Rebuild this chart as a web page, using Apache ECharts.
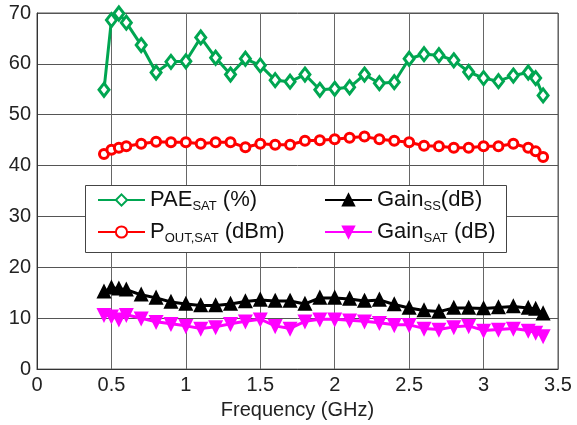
<!DOCTYPE html>
<html>
<head>
<meta charset="utf-8">
<script src="https://cdn.jsdelivr.net/npm/echarts@6/dist/echarts.min.js"></script>
<style>
html,body{margin:0;padding:0;background:#fff;}
#chart{width:577px;height:425px;}
</style>
</head>
<body>
<div id="chart"></div>
<script>
const freq = [0.45,0.5,0.55,0.6,0.7,0.8,0.9,1.0,1.1,1.2,1.3,1.4,1.5,1.6,1.7,1.8,1.9,2.0,2.1,2.2,2.3,2.4,2.5,2.6,2.7,2.8,2.9,3.0,3.1,3.2,3.3,3.35,3.4];
const pae = [54.9,68.6,69.9,68.1,63.7,58.3,60.4,60.5,65.2,61.2,57.9,61.0,59.7,56.8,56.5,57.9,54.9,55.1,55.4,57.9,56.2,56.4,61.0,61.9,61.7,60.7,58.4,57.2,56.6,57.7,58.3,57.2,53.8];
const pout = [42.3,43.1,43.5,43.8,44.3,44.7,44.6,44.6,44.3,44.6,44.6,43.6,44.3,44.1,44.1,44.9,45.0,45.2,45.5,45.7,45.2,44.9,44.6,43.9,43.8,43.5,43.5,43.8,43.8,44.3,43.5,42.8,41.7];
const gainSS = [15.2,16.0,15.8,15.6,14.6,14.0,13.2,12.8,12.5,12.5,12.8,13.3,13.6,13.4,13.4,12.8,14.0,14.0,13.8,13.4,13.6,12.7,12.0,11.5,11.3,12.0,12.0,11.9,12.1,12.3,12.0,11.8,10.9];
const gainSat = [10.7,10.4,9.8,10.7,10.0,9.3,8.9,8.5,8.0,8.3,8.9,9.4,9.8,8.5,8.0,9.4,9.8,9.8,9.6,9.4,9.1,8.7,8.7,8.0,7.8,8.3,8.5,7.6,7.8,8.0,7.6,7.2,6.5];
const xTicks = {min: 0, max: 3.5, interval: 0.5};
const yTicks = {min: 0, max: 70, interval: 10};
const legendLabels = {
  'PAE': '{m|PAE}{s|SAT}{m| (%)}',
  'POUT': '{m|P}{s|OUT,SAT}{m| (dBm)}',
  'GainSS': '{m|Gain}{s|SS}{m|(dB)}',
  'GainSAT': '{m|Gain}{s|SAT}{m| (dB)}'
};

const pair = arr => freq.map((f, i) => [f, arr[i]]);
const FONT = 'Liberation Sans, Arial, sans-serif';
const richStyle = {
  m: {fontSize: 22, fontFamily: FONT, color: '#111', lineHeight: 26, verticalAlign: 'middle'},
  s: {fontSize: 13, fontFamily: FONT, color: '#111', lineHeight: 16, verticalAlign: 'bottom'}
};

function mkSeries(name, data, color, symbol, size, bw, fill, rotate) {
  return {
    name: name, type: 'line', data: pair(data),
    symbol: symbol, symbolSize: size, symbolRotate: rotate || 0,
    lineStyle: {color: color, width: 3},
    itemStyle: {color: fill, borderColor: color, borderWidth: bw},
    emphasis: {disabled: true},
    animation: false
  };
}

const chart = echarts.init(document.getElementById('chart'), null, {renderer: 'canvas'});
chart.setOption({
  backgroundColor: '#fff',
  animation: false,
  grid: {left: 37, right: 19, top: 13, bottom: 49.5, show: true, borderColor: '#555', borderWidth: 1, backgroundColor: 'transparent'},
  xAxis: {
    type: 'value', min: xTicks.min, max: xTicks.max, interval: xTicks.interval,
    name: 'Frequency (GHz)', nameLocation: 'middle', nameGap: 29,
    nameTextStyle: {fontSize: 20, fontFamily: FONT, color: '#222'},
    axisLine: {show: true, lineStyle: {color: '#333', width: 1}},
    axisTick: {show: false},
    axisLabel: {fontSize: 20, fontFamily: FONT, color: '#222', margin: 6},
    splitLine: {show: true, lineStyle: {color: '#666', width: 1}}
  },
  yAxis: {
    type: 'value', min: yTicks.min, max: yTicks.max, interval: yTicks.interval,
    axisLine: {show: true, lineStyle: {color: '#333', width: 1}},
    axisTick: {show: false},
    axisLabel: {fontSize: 20, fontFamily: FONT, color: '#222', margin: 6},
    splitLine: {show: true, lineStyle: {color: '#555', width: 1}}
  },
  graphic: [{
    type: 'rect', z: 5, left: 85, top: 185,
    shape: {width: 421, height: 67},
    style: {fill: '#fff', stroke: '#444', lineWidth: 1}
  }],
  legend: [{
    data: ['PAE', 'POUT'], orient: 'vertical', left: 97, top: 189, z: 10, padding: 0,
    itemWidth: 47, itemHeight: 14, itemGap: 8,
    formatter: n => legendLabels[n],
    textStyle: {rich: richStyle, fontFamily: FONT},
    selectedMode: false
  }, {
    data: ['GainSS', 'GainSAT'], orient: 'vertical', left: 324, top: 189, z: 10, padding: 0,
    itemWidth: 47, itemHeight: 14, itemGap: 8,
    formatter: n => legendLabels[n],
    textStyle: {rich: richStyle, fontFamily: FONT},
    selectedMode: false
  }],
  series: [
    mkSeries('PAE', pae, '#00a651', 'diamond', [10, 13], 3, '#fff'),
    mkSeries('POUT', pout, '#ff0000', 'circle', 9, 3, '#fff'),
    mkSeries('GainSS', gainSS, '#000000', 'triangle', 11, 2.5, '#000'),
    mkSeries('GainSAT', gainSat, '#ff00ff', 'triangle', 11, 2.5, '#ff00ff', 180)
  ]
});
</script>
</body>
</html>
